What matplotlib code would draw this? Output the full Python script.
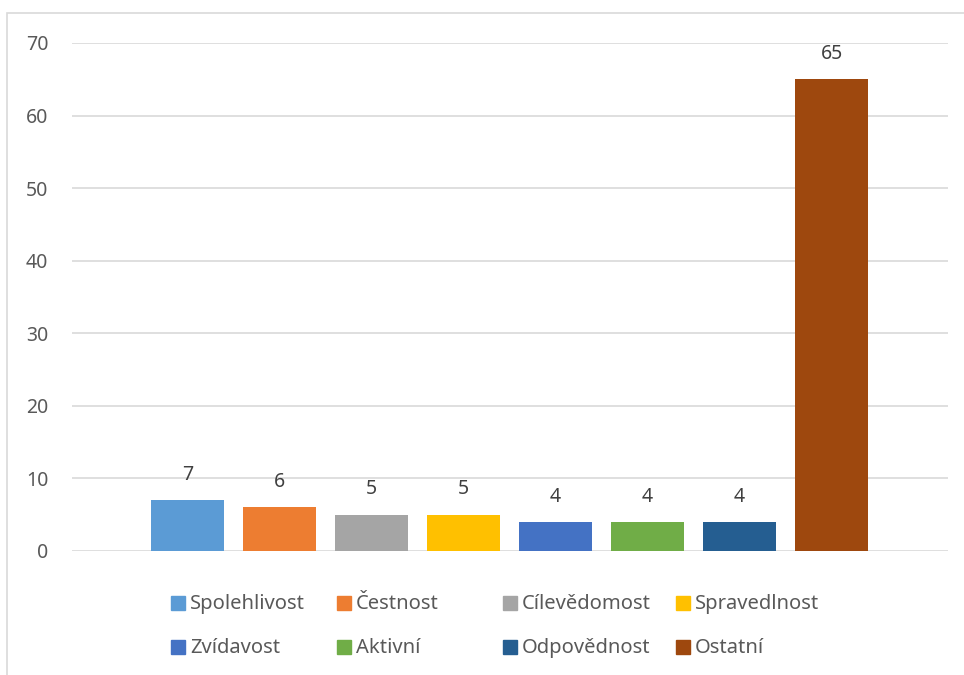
import numpy as np
import matplotlib.pyplot as plt
from matplotlib.patches import Rectangle

kategorie = ["Spolehlivost", "Čestnost", "Cílevědomost", "Spravedlnost",
             "Zvídavost", "Aktivní", "Odpovědnost", "Ostatní"]
hodnoty = [7, 6, 5, 5, 4, 4, 4, 65]
barvy = ["#5b9bd5", "#ed7d31", "#a5a5a5", "#ffc000",
         "#4472c4", "#70ad47", "#255e91", "#9e480e"]
yticks = [0, 10, 20, 30, 40, 50, 60, 70]

plt.rcParams['font.family'] = ['Noto Sans', 'DejaVu Sans']
W, H = 964, 675
fig = plt.figure(figsize=(W/100, H/100), dpi=100)
ax = fig.add_axes([72/W, 1-551/H, (948-72)/W, (551-43)/H])

# ramecek grafu
fig.patches.append(Rectangle((7/W, -0.1), 1.1, 1-13/H+0.1, transform=fig.transFigure,
                             fill=False, edgecolor="#d9d9d9", linewidth=1.2))

x = np.arange(len(hodnoty))
bars = ax.bar(x, hodnoty, width=0.79, color=barvy, zorder=3)
for xi, v in zip(x, hodnoty):
    ax.annotate(str(v), (xi, v), xytext=(0, 11), textcoords="offset points",
                ha="center", va="bottom", fontsize=14, color="#404040")

ax.set_xlim(-1.255, 8.266)
ax.set_ylim(0, 70)
ax.set_yticks(yticks)
ax.set_xticks([])
ax.yaxis.grid(True, color="#d9d9d9", linewidth=1.2, zorder=0)
ax.tick_params(axis="y", length=0, pad=17, labelsize=14, labelcolor="#595959")
for s in ax.spines.values():
    s.set_visible(False)

# legenda ve dvou radcich, po radcich
sloupce_px = [171, 337, 503, 676]
radky_px = [603, 647]
for i, (k, c) in enumerate(zip(kategorie, barvy)):
    lx = sloupce_px[i % 4]
    ly = radky_px[i // 4]
    fig.patches.append(Rectangle((lx/W, 1-(ly+7)/H), 14/W, 14/H,
                                 transform=fig.transFigure, color=c))
    fig.text((lx+19)/W, 1-(ly+6)/H, k, fontsize=14.5, color="#595959",
             ha="left", va="baseline")

plt.savefig("out.png", dpi=100)
